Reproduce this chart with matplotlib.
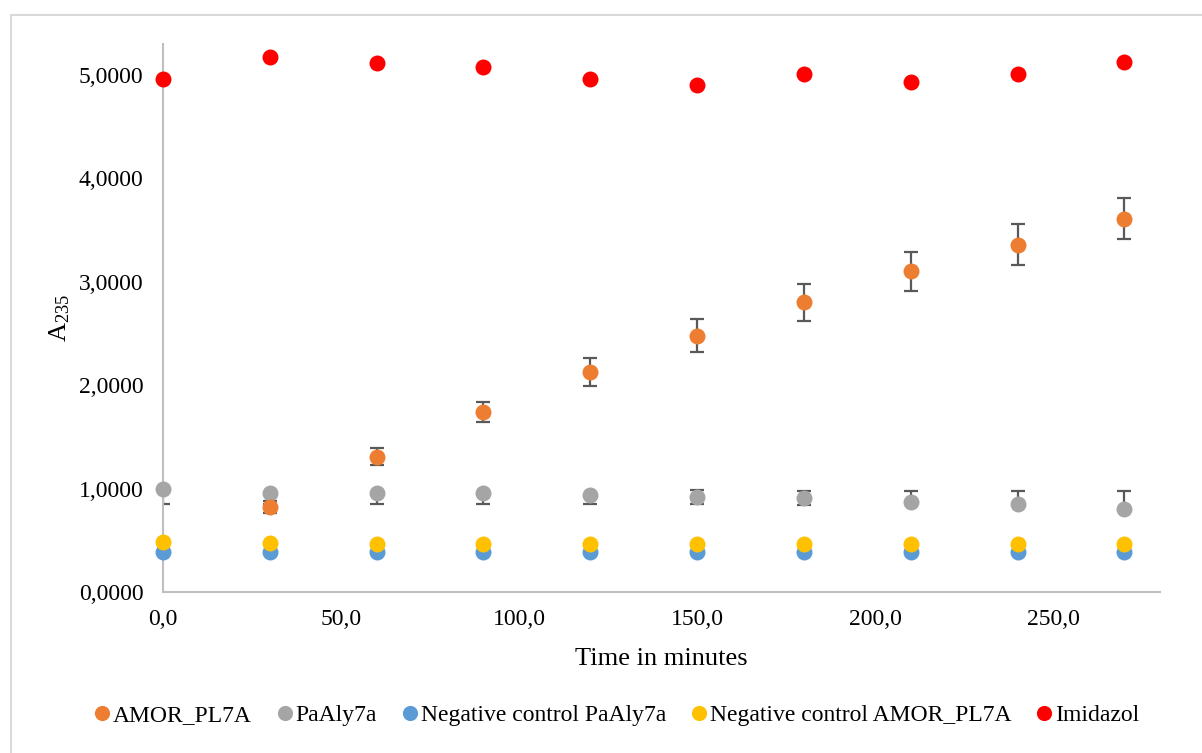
import matplotlib
matplotlib.use("Agg")
import matplotlib.pyplot as plt
from matplotlib.patches import Rectangle
from matplotlib.ticker import FuncFormatter

# Données (temps en minutes, A235)
temps = [0, 30, 60, 90, 120, 150, 180, 210, 240, 270]

amor_temps = [30, 60, 90, 120, 150, 180, 210, 240, 270]
amor = [0.82, 1.31, 1.74, 2.13, 2.48, 2.80, 3.10, 3.36, 3.61]
amor_err = [0.06, 0.08, 0.10, 0.135, 0.16, 0.175, 0.19, 0.20, 0.20]

paaly = [1.00, 0.96, 0.96, 0.96, 0.94, 0.92, 0.91, 0.87, 0.85, 0.80]
paaly_err_bas = [0.145, 0.11, 0.11, 0.11, 0.09, 0.07, 0.07, 0.0, 0.0, 0.0]
paaly_err_haut = [0.0, 0.0, 0.0, 0.0, 0.0, 0.07, 0.07, 0.11, 0.13, 0.18]

neg_paaly = [0.39, 0.39, 0.39, 0.39, 0.39, 0.39, 0.39, 0.39, 0.39, 0.39]
neg_amor = [0.48, 0.47, 0.46, 0.46, 0.46, 0.46, 0.46, 0.46, 0.46, 0.46]

imidazol = [4.96, 5.17, 5.12, 5.08, 4.96, 4.90, 5.01, 4.93, 5.01, 5.13]

noms = ["AMOR_PL7A", "PaAly7a", "Negative control PaAly7a",
        "Negative control AMOR_PL7A", "Imidazol"]
couleurs = ["#ED7D31", "#A5A5A5", "#5B9BD5", "#FFC000", "#FF0000"]

plt.rcParams['font.family'] = ['Liberation Serif', 'DejaVu Serif']
plt.rcParams['mathtext.fontset'] = 'custom'
plt.rcParams['mathtext.rm'] = 'Liberation Serif'
plt.rcParams['mathtext.it'] = 'Liberation Serif:italic'

fig = plt.figure(figsize=(12.02, 7.53), dpi=100)
ax = fig.add_axes([163 / 1202, 1 - 592 / 753, (1160 - 163) / 1202, (592 - 44) / 753])

ms = 11.5
err_style = dict(ecolor="#595959", elinewidth=1.6, capsize=5, capthick=1.6)

# Barres d'erreur derrière les marqueurs
ax.errorbar(temps, paaly, yerr=[paaly_err_bas, paaly_err_haut], fmt='none', zorder=2, **err_style)
ax.errorbar(amor_temps, amor, yerr=amor_err, fmt='none', zorder=2, **err_style)

ax.plot(temps, neg_paaly, 'o', color=couleurs[2], ms=ms, mec='none', label=noms[2], zorder=3, clip_on=False)
ax.plot(temps, neg_amor, 'o', color=couleurs[3], ms=ms, mec='none', label=noms[3], zorder=4, clip_on=False)
ax.plot(temps, paaly, 'o', color=couleurs[1], ms=ms, mec='none', label=noms[1], zorder=5, clip_on=False)
ax.plot(amor_temps, amor, 'o', color=couleurs[0], ms=ms, mec='none', label=noms[0], zorder=7, clip_on=False)
ax.plot(temps, imidazol, 'o', color=couleurs[4], ms=ms, mec='none', label=noms[4], zorder=9, clip_on=False)

ax.set_xlim(0, 280)
ax.set_ylim(0, 5.3)
ax.set_xticks([0, 50, 100, 150, 200, 250])
ax.set_yticks([0, 1, 2, 3, 4, 5])
ax.xaxis.set_major_formatter(FuncFormatter(lambda v, p: f"{v:.1f}".replace('.', ',')))
ax.yaxis.set_major_formatter(FuncFormatter(lambda v, p: f"{v:.4f}".replace('.', ',')))
ax.tick_params(axis='both', length=0, labelsize=17)
ax.tick_params(axis='y', pad=14)
ax.tick_params(axis='x', pad=12)

for cote in ['top', 'right']:
    ax.spines[cote].set_visible(False)
for cote in ['left', 'bottom']:
    ax.spines[cote].set_color('#BFBFBF')
    ax.spines[cote].set_linewidth(1.5)

ax.set_xlabel("Time in minutes", fontsize=19, labelpad=13)
ax.set_ylabel("A$_{235}$", fontsize=19, labelpad=5)

# Légende sous le graphique, dans l'ordre des séries
poignees, etiquettes = ax.get_legend_handles_labels()
ordre = [etiquettes.index(n) for n in noms]
fig.legend([poignees[i] for i in ordre], [etiquettes[i] for i in ordre],
           loc='center', bbox_to_anchor=(0.512, 1 - 715 / 753), ncol=5, frameon=False,
           fontsize=17, handletextpad=0.0, columnspacing=0.95, handlelength=0.9,
           markerscale=0.95)

# Cadre gris clair autour de la zone du graphique
fig.patches.append(Rectangle((11 / 1202, -0.2), 1.5, 1.2 - 15 / 753,
                             transform=fig.transFigure, fill=False,
                             edgecolor='#D9D9D9', linewidth=1.5))

fig.savefig("out.png", dpi=100)
